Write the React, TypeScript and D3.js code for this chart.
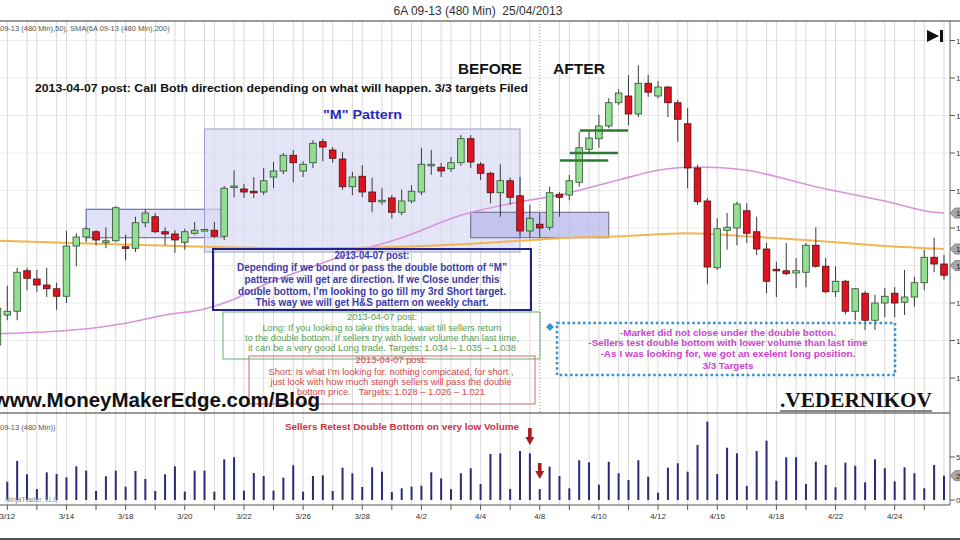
import React from 'react';
import * as d3 from 'd3';

const W = 960;
const H = 540;

// 480-min bars, 6A 09-13 (index 0 partly off the left edge)
const opens = [
  1.0094, 1.0134, 1.0139, 1.0193, 1.0182, 1.0174, 1.0169, 1.0159, 1.0226, 1.0238,
  1.0245, 1.0232, 1.0233, 1.0225, 1.0223, 1.0257, 1.0265, 1.0245, 1.0242, 1.0231,
  1.0243, 1.0247, 1.0247, 1.0239, 1.0304, 1.0302, 1.0299, 1.0298, 1.0318, 1.0326,
  1.0347, 1.0326, 1.0337, 1.0365, 1.0354, 1.0342, 1.0305, 1.0319, 1.0298, 1.0285,
  1.0290, 1.0271, 1.0286, 1.0298, 1.0334, 1.0331, 1.0329, 1.0337, 1.0369, 1.0335,
  1.0323, 1.0297, 1.0313, 1.0293, 1.0246, 1.0255, 1.0251, 1.0295, 1.0294, 1.0311,
  1.0355, 1.0369, 1.0386, 1.0417, 1.0426, 1.0402, 1.0443, 1.0426, 1.0438, 1.0417,
  1.0389, 1.0330, 1.0286, 1.0197, 1.0247, 1.0250, 1.0273, 1.0245, 1.0222, 1.0195,
  1.0193, 1.0190, 1.0191, 1.0227, 1.0199, 1.0165, 1.0179, 1.0139, 1.0163, 1.0127,
  1.0150, 1.0163, 1.0151, 1.0158, 1.0177, 1.0211, 1.0202,
];
const highs = [
  1.0147, 1.0173, 1.0197, 1.0197, 1.0194, 1.0197, 1.0177, 1.0246, 1.0243, 1.0251,
  1.0247, 1.0251, 1.0279, 1.0241, 1.0265, 1.0275, 1.0270, 1.0251, 1.0247, 1.0249,
  1.0258, 1.0249, 1.0258, 1.0306, 1.0327, 1.0309, 1.0318, 1.0330, 1.0338, 1.0350,
  1.0354, 1.0339, 1.0367, 1.0369, 1.0358, 1.0351, 1.0325, 1.0334, 1.0317, 1.0303,
  1.0294, 1.0301, 1.0307, 1.0357, 1.0354, 1.0337, 1.0345, 1.0374, 1.0374, 1.0338,
  1.0325, 1.0335, 1.0317, 1.0318, 1.0281, 1.0270, 1.0305, 1.0298, 1.0321, 1.0378,
  1.0378, 1.0401, 1.0423, 1.0435, 1.0454, 1.0467, 1.0454, 1.0446, 1.0439, 1.0421,
  1.0410, 1.0334, 1.0290, 1.0263, 1.0270, 1.0285, 1.0283, 1.0265, 1.0230, 1.0205,
  1.0230, 1.0210, 1.0230, 1.0251, 1.0210, 1.0199, 1.0181, 1.0170, 1.0166, 1.0161,
  1.0170, 1.0171, 1.0194, 1.0185, 1.0221, 1.0237, 1.0214,
];
const lows = [
  1.0087, 1.0127, 1.0127, 1.0167, 1.0165, 1.0158, 1.0141, 1.0150, 1.0199, 1.0231,
  1.0227, 1.0223, 1.0231, 1.0207, 1.0218, 1.0251, 1.0243, 1.0227, 1.0217, 1.0221,
  1.0241, 1.0246, 1.0237, 1.0234, 1.0291, 1.0290, 1.0290, 1.0294, 1.0303, 1.0322,
  1.0311, 1.0318, 1.0330, 1.0339, 1.0337, 1.0301, 1.0294, 1.0291, 1.0271, 1.0281,
  1.0263, 1.0267, 1.0283, 1.0294, 1.0321, 1.0318, 1.0325, 1.0333, 1.0330, 1.0314,
  1.0283, 1.0265, 1.0281, 1.0238, 1.0237, 1.0237, 1.0247, 1.0265, 1.0287, 1.0305,
  1.0350, 1.0357, 1.0383, 1.0414, 1.0387, 1.0398, 1.0425, 1.0423, 1.0398, 1.0365,
  1.0303, 1.0281, 1.0175, 1.0194, 1.0221, 1.0227, 1.0230, 1.0214, 1.0163, 1.0158,
  1.0187, 1.0170, 1.0171, 1.0197, 1.0163, 1.0158, 1.0135, 1.0127, 1.0114, 1.0114,
  1.0131, 1.0131, 1.0134, 1.0145, 1.0167, 1.0191, 1.0181,
];
const closes = [
  1.0143, 1.0139, 1.0191, 1.0183, 1.0174, 1.0169, 1.0159, 1.0226, 1.0238, 1.0249,
  1.0234, 1.0233, 1.0277, 1.0224, 1.0257, 1.0270, 1.0245, 1.0242, 1.0234, 1.0245,
  1.0247, 1.0248, 1.0239, 1.0303, 1.0306, 1.0298, 1.0298, 1.0313, 1.0326, 1.0347,
  1.0337, 1.0335, 1.0363, 1.0358, 1.0343, 1.0305, 1.0318, 1.0298, 1.0285, 1.0287,
  1.0271, 1.0286, 1.0299, 1.0335, 1.0335, 1.0326, 1.0337, 1.0369, 1.0338, 1.0323,
  1.0297, 1.0313, 1.0291, 1.0246, 1.0263, 1.0250, 1.0297, 1.0291, 1.0313, 1.0357,
  1.0370, 1.0386, 1.0417, 1.0430, 1.0402, 1.0443, 1.0431, 1.0438, 1.0417, 1.0395,
  1.0330, 1.0285, 1.0198, 1.0249, 1.0251, 1.0282, 1.0243, 1.0222, 1.0179, 1.0194,
  1.0189, 1.0193, 1.0227, 1.0199, 1.0165, 1.0179, 1.0139, 1.0169, 1.0127, 1.0150,
  1.0159, 1.0150, 1.0158, 1.0177, 1.0211, 1.0202, 1.0187,
];
const volumes = [
  2500, 2130, 4540, 2990, 1280, 3220, 3020, 2640, 3920, 3410,
  1050, 2760, 3410, 1550, 3370, 2440, 1050, 2990, 3920, 970,
  3410, 3410, 970, 4730, 4970, 1080, 3140, 2790, 1080, 2590,
  4040, 970, 2790, 2870, 1050, 3760, 3110, 1510, 3800, 3290,
  930, 1360, 1550, 1660, 3220, 2520, 1240, 3110, 3690, 1860,
  5350, 5430, 1280, 5700, 5430, 1280, 3870, 2790, 1360, 4620,
  4380, 1780, 4450, 3110, 2330, 4620, 2710, 850, 3760, 4270,
  3290, 6400, 9110, 3020, 6080, 5430, 1630, 5700, 6900, 2240,
  4970, 4970, 1860, 4450, 4070, 1480, 4340, 3990, 2060, 4730,
  3690, 2170, 3800, 3110, 1360, 4070, 2830,
];

// moving averages (bar index -> value)
const sma50Idx = [0, 10, 13, 17, 21, 24, 27, 31, 36, 41, 47, 53, 57, 63, 67, 70, 72, 76, 83, 90, 95, 96];
const sma50Val = [1.0109, 1.0117, 1.0123, 1.0134, 1.0142, 1.0155, 1.0174, 1.0194, 1.0217, 1.0237, 1.0267, 1.0285, 1.0294, 1.0314, 1.0327, 1.0331, 1.0331, 1.0327, 1.0305, 1.0286, 1.0271, 1.0270];
const sma200Idx = [0, 10, 21, 31, 41, 48, 53, 58, 63, 70, 76, 83, 90, 96];
const sma200Val = [1.0233, 1.0229, 1.0225, 1.0223, 1.0225, 1.0229, 1.0233, 1.0237, 1.0239, 1.0243, 1.0239, 1.0233, 1.0226, 1.0222];

const priceTicks = [1.005, 1.01, 1.015, 1.02, 1.025, 1.03, 1.035, 1.04, 1.045, 1.05];
const dateLabels = ['3/12', '3/14', '3/18', '3/20', '3/22', '3/26', '3/28', '4/2', '4/4', '4/8', '4/10', '4/12', '4/16', '4/18', '4/22', '4/24'];
const lastPrice = 1.02;

// long targets (green bars) and annotation rectangles (bar index / price)
const longTargets = [1.034, 1.035, 1.038];
const targetStart = [57, 58, 59];
const boxes = [
  { k0: 9, k1: 23, p0: 1.0275, p1: 1.0237, fill: '#dcdcf6', stroke: '#5a5aaa', op: 0.85 },
  { k0: 21, k1: 53, p0: 1.0382, p1: 1.0218, fill: '#dadaf5', stroke: '#9a9acc', op: 0.7 },
  { k0: 48, k1: 62, p0: 1.0271, p1: 1.0237, fill: '#b8b8ec', stroke: '#666688', op: 0.75 },
];

const navyLines = [
  '2013-04-07 post:',
  'Depending if we bound or pass the double bottom of \u201cM\u201d',
  'pattern we will get are direction. If we Close under this',
  'double bottom, I\u2019m looking to go till my 3rd Short target.',
  'This way we will get H&S pattern on weekly chart.',
];
const navyW = [75, 270, 255, 268, 233];
const navyY = [259, 271, 283, 295, 306];

const greenLines = [
  '2013-04-07 post:',
  'Long: If you looking to take this trade, wait till sellers return',
  'to the double bottom. If sellers try with lower volume than last time,',
  'it can be a very good Long trade. Targets: 1.034 \u2013 1.035 \u2013 1.038',
];
const greenW = [70, 239, 274, 268];
const greenY = [320, 331, 341, 351];

const redLines = [
  '2013-04-07 post:',
  'Short: Is what I\u2019m looking for. nothing compicated, for short ,',
  'just look with how much stengh sellers will pass the double',
  'bottom price.   Targets: 1.028 \u2013 1.026 \u2013 1.021',
];
const redW = [71, 245, 241, 188];
const redY = [363, 375, 385, 395];

const magentaLines = [
  '-Market did not close under the double botton.',
  '-Sellers test double bottom with lower volume than last time',
  '-As I was looking for, we got an exelent long position.',
  '3/3 Targets',
];
const magentaW = [216, 279, 255, 51];
const magentaY = [336, 346, 357, 369];

const SANS = '"Liberation Sans", Arial, Helvetica, sans-serif';

export default function App() {
  const n = opens.length;
  const x = d3.scaleLinear().domain([0, n - 1]).range([-2.56, 944]);
  const y = d3.scaleLinear().domain([1.005, 1.05]).range([378, 40.5]);
  const yv = d3.scaleLinear().domain([0, 5000]).range([500, 457]);
  const idx = d3.range(n);

  const mkLine = (ks: number[], vs: number[]) =>
    d3.line<number>()
      .x((_, i) => x(ks[i]))
      .y((_, i) => y(vs[i]))
      .curve(d3.curveMonotoneX)(ks) || '';

  const gridIdx = idx.filter((k) => k > 0 && k % 3 !== 2 && k !== 55);
  const tickIdx = idx.filter((k) => k % 3 === 1);
  const bw = 6.6;

  const markerYs = [
    y(sma50Val[sma50Val.length - 1]),
    y(sma200Val[sma200Val.length - 1]),
    y(lastPrice),
  ];
  const labelTicks = priceTicks.filter((p) => markerYs.every((my) => Math.abs(my - y(p)) > 8));

  const marker = (yy: number, label: string, key: string) => (
    <g key={key}>
      <path d={`M950,${yy} L955,${yy - 5} L966,${yy - 5} L966,${yy + 5} L955,${yy + 5} Z`} fill="#a8a8a8" stroke="#777" strokeWidth={0.8} />
      <text x={956} y={yy + 3} fontSize={8} fontFamily={SANS} fill="#222">{label}</text>
    </g>
  );

  return (
    <svg width={W} height={H} style={{ position: 'absolute', left: 0, top: 0, background: '#fff' }}>
      <rect x={0} y={0} width={W} height={H} fill="#fff" />
      {/* title */}
      <text x={478} y={15} textAnchor="middle" fontSize={12} fontFamily={SANS} fill="#333" style={{ whiteSpace: 'pre' }}>
        6A 09-13 (480 Min)  25/04/2013
      </text>

      {/* gridlines */}
      {priceTicks.map((p) => (
        <line key={'hg' + p} x1={0} x2={950} y1={y(p)} y2={y(p)} stroke="#ececec" strokeWidth={1} />
      ))}
      {gridIdx.map((k) => (
        <line key={'vg' + k} x1={x(k)} x2={x(k)} y1={21} y2={505} stroke="#d9d9d9" strokeWidth={1} />
      ))}
      <line x1={x(55)} x2={x(55)} y1={21} y2={413} stroke="#999" strokeWidth={1} strokeDasharray="1,2" />

      {/* pattern boxes */}
      {boxes.map((b, i) => (
        <rect key={'bx' + i} x={x(b.k0)} y={y(b.p0)} width={x(b.k1) - x(b.k0)} height={y(b.p1) - y(b.p0)}
          fill={b.fill} fillOpacity={b.op} stroke={b.stroke} strokeWidth={1} />
      ))}

      {/* moving averages */}
      <path d={mkLine(sma200Idx, sma200Val)} fill="none" stroke="#f2b552" strokeWidth={2} />
      <path d={mkLine(sma50Idx, sma50Val)} fill="none" stroke="#d993dc" strokeWidth={1.6} />

      {/* candles */}
      {idx.map((k) => {
        const up = closes[k] >= opens[k];
        const top = y(Math.max(opens[k], closes[k]));
        const bot = y(Math.min(opens[k], closes[k]));
        const h = Math.max(bot - top, 1.6);
        return (
          <g key={'c' + k}>
            <line x1={x(k)} x2={x(k)} y1={y(highs[k])} y2={y(lows[k])} stroke="#3a3a3a" strokeWidth={1} />
            <rect x={x(k) - bw / 2} y={top} width={bw} height={h}
              fill={up ? '#92de92' : '#dc1420'} stroke={up ? '#2f4f2f' : '#4a1010'} strokeWidth={0.8} />
          </g>
        );
      })}

      {/* long target bars */}
      {longTargets.map((p, i) => (
        <line key={'t' + i} x1={x(targetStart[i]) + 0.5} x2={x(targetStart[i] + 5) - 0.5} y1={y(p)} y2={y(p)}
          stroke="#2e7a2e" strokeWidth={2.6} />
      ))}

      {/* indicator legend */}
      <text x={0} y={31} fontSize={7.5} fontFamily={SANS} fill="#555">09-13 (480 Min),50), SMA(6A 09-13 (480 Min),200)</text>

      {/* annotations */}
      <text x={458} y={74} fontSize={15.5} fontWeight="bold" fontFamily={SANS} fill="#111" textLength={64} lengthAdjust="spacingAndGlyphs">BEFORE</text>
      <text x={553} y={74} fontSize={15.5} fontWeight="bold" fontFamily={SANS} fill="#111" textLength={52} lengthAdjust="spacingAndGlyphs">AFTER</text>
      <text x={35} y={91.5} fontSize={11.5} fontWeight="bold" fontFamily={SANS} fill="#111" textLength={493} lengthAdjust="spacingAndGlyphs">
        2013-04-07 post: Call Both direction depending on what will happen. 3/3 targets Filed
      </text>
      <text x={323} y={119} fontSize={13} fontWeight="bold" fontFamily={SANS} fill="#2a2ab8" textLength={79} lengthAdjust="spacingAndGlyphs">"M" Pattern</text>

      <rect x={213} y={249} width={318} height={61} fill="none" stroke="#22228a" strokeWidth={2} />
      {navyLines.map((t, i) => (
        <text key={'nv' + i} x={372} y={navyY[i]} textAnchor="middle" fontSize={10} fontWeight="bold" fontFamily={SANS}
          fill="#3c3caa" textLength={navyW[i]} lengthAdjust="spacingAndGlyphs">{t}</text>
      ))}

      <rect x={223} y={312} width={317} height={47} fill="none" stroke="#6cae6c" strokeWidth={1} />
      {greenLines.map((t, i) => (
        <text key={'gr' + i} x={382} y={greenY[i]} textAnchor="middle" fontSize={9.5} fontFamily={SANS}
          fill="#55a055" textLength={greenW[i]} lengthAdjust="spacingAndGlyphs">{t}</text>
      ))}

      <rect x={249} y={356} width={286} height={48} fill="none" stroke="#cc6b6b" strokeWidth={1} />
      {redLines.map((t, i) => (
        <text key={'rd' + i} x={391} y={redY[i]} textAnchor="middle" fontSize={9.5} fontFamily={SANS}
          fill="#d24a4a" textLength={redW[i]} lengthAdjust="spacingAndGlyphs" style={{ whiteSpace: 'pre' }}>{t}</text>
      ))}

      <rect x={557} y={323} width={338} height={52} fill="none" stroke="#3d92cc" strokeWidth={2.6} strokeDasharray="2.6,2.6" />
      <path d="M550,323 L554,327 L550,331 L546,327 Z" fill="#3d92cc" />
      {magentaLines.map((t, i) => (
        <text key={'mg' + i} x={728} y={magentaY[i]} textAnchor="middle" fontSize={9.5} fontWeight="bold" fontFamily={SANS}
          fill="#cc44cc" textLength={magentaW[i]} lengthAdjust="spacingAndGlyphs">{t}</text>
      ))}

      <text x={320} y={407} textAnchor="end" fontSize={20.5} fontWeight="bold" fontFamily={SANS} fill="#111">www.MoneyMakerEdge.com/Blog</text>
      <text x={780} y={407} fontSize={21} fontWeight="bold" fontFamily='"Liberation Serif", "Times New Roman", serif' fill="#111"
        textLength={152} lengthAdjust="spacingAndGlyphs">.VEDERNIKOV</text>
      <line x1={780} x2={932} y1={411} y2={411} stroke="#111" strokeWidth={1.2} />

      {/* play icon */}
      <path d="M927,30 L939,36 L927,42 Z" fill="#111" />
      <rect x={940} y={30} width={3} height={12} fill="#111" />

      {/* panel frame */}
      <line x1={0} x2={W} y1={21} y2={21} stroke="#777" strokeWidth={1.5} />
      <line x1={0} x2={950} y1={413} y2={413} stroke="#777" strokeWidth={1.3} />
      <line x1={950} x2={950} y1={21} y2={505} stroke="#666" strokeWidth={1} />

      {/* price axis */}
      {priceTicks.map((p) => (
        <line key={'ptl' + p} x1={950} x2={955} y1={y(p)} y2={y(p)} stroke="#555" />
      ))}
      {labelTicks.map((p) => (
        <text key={'ptt' + p} x={956} y={y(p) + 3} fontSize={8} fontFamily={SANS} fill="#333">{p.toFixed(3)}</text>
      ))}
      {marker(markerYs[0], sma50Val[sma50Val.length - 1].toFixed(4), 'm1')}
      {marker(markerYs[1], sma200Val[sma200Val.length - 1].toFixed(4), 'm2')}
      {marker(markerYs[2], lastPrice.toFixed(4), 'm3')}

      {/* volume panel */}
      <text x={0} y={430} fontSize={7.5} fontFamily={SANS} fill="#555">09-13 (480 Min))</text>
      <text x={285} y={430} fontSize={9.5} fontWeight="bold" fontFamily={SANS} fill="#cc3344" textLength={234} lengthAdjust="spacingAndGlyphs">
        Sellers Retest Double Bottom on very low Volume
      </text>
      {idx.map((k) => (
        <line key={'v' + k} x1={x(k)} x2={x(k)} y1={yv(0)} y2={yv(volumes[k])} stroke="#2a2a78" strokeWidth={2} />
      ))}
      <text x={58} y={502} textAnchor="end" fontSize={7} fontFamily={SANS} fill="#888">NinjaTrader, LLC</text>
      {/* arrows */}
      <g fill="#a81c1c">
        <rect x={x(54) - 1.8} y={428} width={3.6} height={9} />
        <path d={`M${x(54) - 4.5},437 L${x(54) + 4.5},437 L${x(54)},445 Z`} />
        <rect x={x(55) - 1.8} y={463} width={3.6} height={8} />
        <path d={`M${x(55) - 4.5},471 L${x(55) + 4.5},471 L${x(55)},479 Z`} />
      </g>
      {[0, 5000].map((v) => (
        <g key={'vt' + v}>
          <line x1={950} x2={955} y1={yv(v)} y2={yv(v)} stroke="#555" />
          <text x={956} y={yv(v) + 3} fontSize={8} fontFamily={SANS} fill="#333">{v}</text>
        </g>
      ))}
      {marker(yv(volumes[n - 1]), String(volumes[n - 1]), 'mv')}

      {/* date axis */}
      <line x1={0} x2={950} y1={505} y2={505} stroke="#555" strokeWidth={1} />
      {tickIdx.map((k) => (
        <line key={'dt' + k} x1={x(k)} x2={x(k)} y1={505} y2={510} stroke="#555" />
      ))}
      {dateLabels.map((d, i) => (
        <text key={'dl' + d} x={x(1 + 6 * i)} y={519} textAnchor="middle" fontSize={8} fontFamily={SANS} fill="#333">{d}</text>
      ))}
      <line x1={0} x2={W} y1={539} y2={539} stroke="#555" strokeWidth={2} />
    </svg>
  );
}
